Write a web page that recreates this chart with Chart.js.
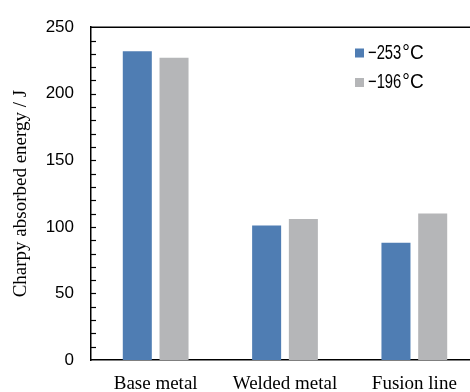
<!DOCTYPE html>
<html>
<head>
<meta charset="utf-8">
<script src="https://cdn.jsdelivr.net/npm/chart.js@4/dist/chart.umd.min.js"></script>
<style>
  html, body { margin: 0; padding: 0; background: #fff; overflow: hidden; }
  #wrap { width: 482px; height: 392px; }
</style>
</head>
<body>
<div id="wrap"><canvas id="charpyChart"></canvas></div>
<script>
const categories = ['Base metal', 'Welded metal', 'Fusion line'];
const seriesNames = ['\u2212253\u2103', '\u2212196\u2103'];
const valuesLow = [232, 101, 88];   // -253 C
const valuesHigh = [227, 106, 110]; // -196 C
const yTicks = [0, 50, 100, 150, 200, 250];

const blue = '#4f7db3';
const grey = '#b5b6b8';

// frame + inward minor ticks on the y axis
const framePlugin = {
    id: 'frame',
    afterDraw(chart) {
        const ctx = chart.ctx;
        const a = chart.chartArea;
        const y = chart.scales.y;
        ctx.save();
        ctx.strokeStyle = '#000';
        ctx.lineWidth = 1.5;
        ctx.beginPath();
        ctx.moveTo(a.left, a.top);
        ctx.lineTo(a.right, a.top);
        ctx.stroke();
        ctx.lineWidth = 1.2;
        for (let v = 10; v < 250; v += 10) {
            const py = Math.round(y.getPixelForValue(v)) + 0.5;
            ctx.beginPath();
            ctx.moveTo(a.left, py);
            ctx.lineTo(a.left + 5, py);
            ctx.stroke();
        }
        ctx.restore();
    }
};

// legend drawn inside the plot, top right
// digits are squeezed, the degree sign is kept wide
const legendPlugin = {
    id: 'innerLegend',
    afterDraw(chart) {
        const ctx = chart.ctx;
        ctx.save();
        chart.data.datasets.forEach((ds, i) => {
            const cy = 53 + i * 29.5;
            ctx.fillStyle = ds.backgroundColor;
            ctx.fillRect(355, cy - 4.5, 9, 9);
            ctx.fillStyle = '#000';
            ctx.textBaseline = 'middle';
            ctx.font = '20px "Liberation Sans", Arial, sans-serif';
            const num = ds.label.replace('\u2103', '');
            ctx.save();
            ctx.translate(368, cy);
            ctx.scale(0.74, 1);
            ctx.fillText(num, 0, 0);
            const w = ctx.measureText(num).width * 0.74;
            ctx.restore();
            ctx.save();
            ctx.translate(369 + w, cy);
            ctx.scale(0.95, 1);
            ctx.fillText('\u00b0C', 0, 0);
            ctx.restore();
        });
        ctx.restore();
    }
};

const config = {
    type: 'bar',
    data: {
        labels: categories,
        datasets: [
            { label: seriesNames[0], data: valuesLow, backgroundColor: blue },
            { label: seriesNames[1], data: valuesHigh, backgroundColor: grey }
        ]
    },
    options: {
        responsive: true,
        maintainAspectRatio: false,
        animation: false,
        layout: { padding: { top: 20, right: 3, bottom: 0, left: 0 } },
        datasets: {
            bar: { categoryPercentage: 0.568, barPercentage: 0.79 }
        },
        plugins: {
            legend: { display: false },
            tooltip: { enabled: false }
        },
        scales: {
            x: {
                grid: { display: false, drawTicks: false },
                border: { display: true, color: '#000', width: 1.5 },
                ticks: {
                    color: '#000',
                    padding: 13,
                    font: { family: '"Liberation Serif", "Times New Roman", serif', size: 19 }
                },
                afterFit: s => { s.height = 32; }
            },
            y: {
                min: 0,
                max: 250,
                afterBuildTicks: s => { s.ticks = yTicks.map(v => ({ value: v })); },
                grid: { display: false, drawTicks: false },
                border: { display: true, color: '#000', width: 1.5 },
                ticks: {
                    color: '#000',
                    padding: 17,
                    font: { family: '"Liberation Sans", Arial, sans-serif', size: 17 }
                },
                title: {
                    display: true,
                    text: 'Charpy absorbed energy / J',
                    color: '#000',
                    padding: { top: 10, bottom: 0 },
                    font: { family: '"Liberation Serif", "Times New Roman", serif', size: 19 }
                },
                afterFit: s => { s.width = 91; }
            }
        }
    },
    plugins: [framePlugin, legendPlugin]
};

new Chart(document.getElementById('charpyChart').getContext('2d'), config);
</script>
</body>
</html>
